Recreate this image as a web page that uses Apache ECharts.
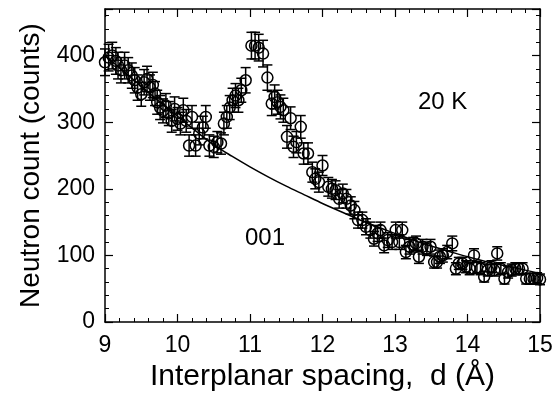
<!DOCTYPE html>
<html>
<head>
<meta charset="utf-8">
<style>
  html, body { margin: 0; padding: 0; background: #fff; }
  #chart { width: 559px; height: 397px; }
</style>
<script src="https://cdn.jsdelivr.net/npm/echarts@6/dist/echarts.min.js"></script>
</head>
<body>
<div id="chart"></div>
<script>
// measured points: d spacing (Å), neutron counts, error bar half-height
const dSpacing = [
  9.00, 9.05, 9.10, 9.15, 9.18, 9.22, 9.27, 9.32, 9.37, 9.41,
  9.45, 9.50, 9.54, 9.58, 9.62, 9.66, 9.69, 9.72, 9.76, 9.80,
  9.84, 9.88, 9.92, 9.96, 10.00, 10.04, 10.08, 10.12, 10.16, 10.20,
  10.25, 10.30, 10.35, 10.39, 10.44, 10.50, 10.55, 10.60, 10.64, 10.68,
  10.72, 10.76, 10.80, 10.84, 10.88, 10.94, 11.02, 11.07, 11.12, 11.18,
  11.24, 11.30, 11.34, 11.38, 11.42, 11.46, 11.51, 11.56, 11.60, 11.64,
  11.70, 11.74, 11.80, 11.86, 11.90, 11.95, 12.00, 12.08, 12.13, 12.18,
  12.23, 12.28, 12.33, 12.39, 12.44, 12.49, 12.55, 12.60, 12.66, 12.71,
  12.76, 12.80, 12.85, 12.90, 12.96, 13.01, 13.06, 13.10, 13.15, 13.20,
  13.25, 13.29, 13.33, 13.38, 13.44, 13.49, 13.54, 13.58, 13.62, 13.66,
  13.72, 13.79, 13.84, 13.88, 13.93, 13.98, 14.03, 14.09, 14.13, 14.18,
  14.23, 14.28, 14.33, 14.37, 14.41, 14.46, 14.51, 14.56, 14.61, 14.66,
  14.71, 14.76, 14.81, 14.86, 14.91, 14.96, 15.00
]
const counts = [
  390, 397, 400, 392, 385, 378, 385, 378, 370, 363,
  352, 342, 360, 365, 352, 356, 343, 330, 322, 317,
  325, 313, 302, 320, 305, 298, 318, 302, 265, 308,
  265, 283, 292, 308, 265, 263, 270, 268, 298, 308,
  322, 333, 340, 333, 348, 363, 415, 415, 412, 403,
  367, 328, 338, 330, 323, 318, 278, 306, 263, 270,
  293, 253, 253, 225, 215, 210, 235, 203, 200, 198,
  185, 193, 185, 175, 168, 153, 153, 143, 138, 125,
  133, 138, 115, 123, 120, 138, 120, 138, 105, 113,
  116, 118, 98, 113, 110, 113, 90, 90, 98, 100,
  105, 118, 80, 88, 88, 83, 80, 100, 82, 80,
  68, 78, 83, 78, 103, 80, 65, 75, 78, 80,
  80, 80, 65, 65, 65, 66, 64
]
const countErr = [
  20, 20, 20, 20, 20, 19, 20, 19, 19, 19,
  19, 18, 19, 19, 19, 19, 18, 18, 18, 18,
  18, 18, 17, 18, 17, 17, 18, 17, 16, 17,
  16, 17, 17, 17, 16, 16, 16, 16, 17, 17,
  18, 18, 18, 18, 18, 19, 20, 20, 20, 20,
  19, 18, 18, 18, 18, 18, 17, 17, 16, 16,
  17, 16, 16, 15, 15, 15, 15, 14, 14, 14,
  14, 14, 14, 13, 13, 12, 12, 12, 12, 11,
  12, 12, 11, 11, 11, 12, 11, 12, 10, 11,
  11, 11, 10, 11, 10, 11, 9, 9, 10, 10,
  10, 11, 9, 9, 9, 9, 9, 10, 9, 9,
  8, 9, 9, 9, 10, 9, 8, 9, 9, 9,
  9, 9, 8, 8, 8, 8, 8
]

// background fit curve
const fitD = [9.0, 9.25, 9.5, 9.75, 10.0, 10.25, 10.5, 10.75, 11.0, 11.25, 11.5, 11.75, 12.0,
  12.25, 12.5, 12.75, 13.0, 13.25, 13.5, 13.75, 14.0, 14.25, 14.5, 14.75, 15.0]
const fitCounts = [400, 377, 354, 331, 309, 287, 266, 249, 233, 218, 204, 191, 178,
  166, 154, 143, 133, 123, 114, 106, 98, 91, 85, 79, 73]

const xMin = 9
const xMax = 15
const yMin = 0
const yMax = 470

const font = '"Liberation Sans", Arial, sans-serif'

const points = dSpacing.map((d, i) => [d, counts[i], countErr[i]])
const fitLine = fitD.map((d, i) => [d, fitCounts[i]])

const chart = echarts.init(document.getElementById('chart'))

const axisStyle = {
  axisLine: { show: true, onZero: false, lineStyle: { color: '#000', width: 1.5 } },
  axisTick: { show: true, inside: true, length: 8, lineStyle: { color: '#000', width: 1.2 } },
  minorTick: { show: true, splitNumber: 5, length: 4, lineStyle: { color: '#000', width: 1 } },
  splitLine: { show: false },
}

function renderErrorPoint(params, api) {
  const x = api.value(0)
  const y = api.value(1)
  const e = api.value(2)
  const c = api.coord([x, y])
  const top = api.coord([x, y + e])
  const bot = api.coord([x, y - e])
  const hw = 5
  const stroke = { stroke: '#000', lineWidth: 1.5, fill: null }
  return {
    type: 'group',
    children: [
      { type: 'line', shape: { x1: c[0], y1: top[1], x2: c[0], y2: bot[1] }, style: stroke },
      { type: 'line', shape: { x1: c[0] - hw, y1: top[1], x2: c[0] + hw, y2: top[1] }, style: stroke },
      { type: 'line', shape: { x1: c[0] - hw, y1: bot[1], x2: c[0] + hw, y2: bot[1] }, style: stroke },
      { type: 'circle', shape: { cx: c[0], cy: c[1], r: 5.5 }, style: { stroke: '#000', lineWidth: 1.5, fill: 'none' } },
    ],
  }
}

const option = {
  animation: false,
  backgroundColor: '#fff',
  grid: { left: 105, right: 19, top: 9, bottom: 75 },
  xAxis: [
    {
      type: 'value', min: xMin, max: xMax, interval: 1, position: 'bottom',
      name: 'Interplanar spacing,  d (Å)', nameLocation: 'middle', nameGap: 34,
      nameTextStyle: { fontFamily: font, fontSize: 30, color: '#000' },
      axisLabel: { fontFamily: font, fontSize: 23, color: '#000', margin: 12 },
      ...axisStyle,
    },
    {
      type: 'value', min: xMin, max: xMax, interval: 1, position: 'top',
      axisLabel: { show: false },
      ...axisStyle,
    },
  ],
  yAxis: [
    {
      type: 'value', min: yMin, max: yMax, interval: 100, position: 'left',
      name: 'Neutron count (counts)', nameLocation: 'middle', nameGap: 58, nameRotate: 90,
      nameTextStyle: { fontFamily: font, fontSize: 28, color: '#000' },
      axisLabel: { fontFamily: font, fontSize: 23, color: '#000', margin: 10, showMaxLabel: false },
      ...axisStyle,
    },
    {
      type: 'value', min: yMin, max: yMax, interval: 100, position: 'right',
      axisLabel: { show: false },
      ...axisStyle,
    },
  ],
  series: [
    {
      type: 'line',
      data: fitLine,
      smooth: 0.3,
      showSymbol: false,
      lineStyle: { color: '#000', width: 1.5 },
      z: 2,
    },
    {
      type: 'custom',
      data: points,
      renderItem: renderErrorPoint,
      z: 3,
    },
  ],
  graphic: [
    {
      type: 'text', left: 418, top: 90,
      style: { text: '20 K', font: '24px ' + font, fill: '#000' },
    },
    {
      type: 'text', left: 245, top: 226,
      style: { text: '001', font: '24px ' + font, fill: '#000' },
    },
  ],
}

chart.setOption(option)
</script>
</body>
</html>
